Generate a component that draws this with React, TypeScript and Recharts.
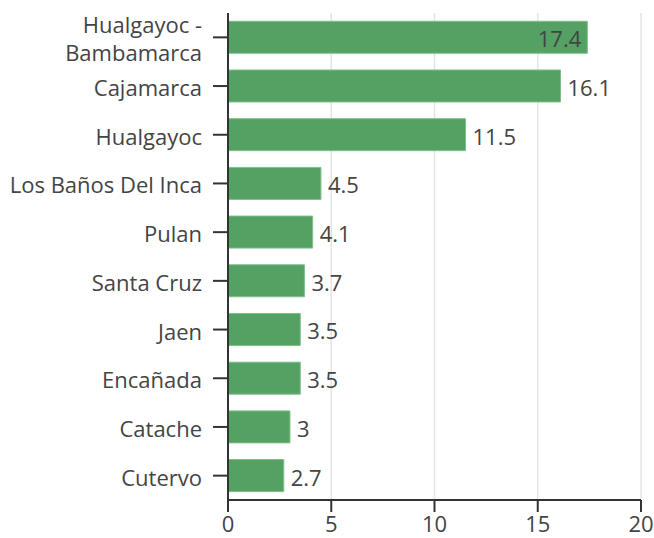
import { Bar, BarChart, CartesianGrid, LabelList, XAxis, YAxis } from 'recharts'

const districts = [
  'Hualgayoc - Bambamarca',
  'Cajamarca',
  'Hualgayoc',
  'Los Baños Del Inca',
  'Pulan',
  'Santa Cruz',
  'Jaen',
  'Encañada',
  'Catache',
  'Cutervo',
]
const shares = [17.4, 16.1, 11.5, 4.5, 4.1, 3.7, 3.5, 3.5, 3, 2.7]
const xTicks = [0, 5, 10, 15, 20]

const data = districts.map((name, i) => ({ name, value: shares[i] }))

const FONT = '"Open Sans", sans-serif'
const TEXT = '#444'
const SIZE = 22

function DistrictTick({ x, y, payload }: any) {
  const label: string = payload.value
  const lines = label.includes(' - ') ? [label.split(' - ')[0] + ' -', label.split(' - ')[1]] : [label]
  const lineH = 28
  const start = y - ((lines.length - 1) * lineH) / 2 + 1
  return (
    <g>
      <line x1={x - 15} x2={x} y1={y} y2={y} stroke="#333" strokeWidth={2} />
      {lines.map((l, i) => (
        <text
          key={i}
          x={x - 26}
          y={start + i * lineH}
          textAnchor="end"
          dominantBaseline="central"
          fill={TEXT}
          fontSize={SIZE}
          fontFamily={FONT}
        >
          {l}
        </text>
      ))}
    </g>
  )
}

function ValueLabel({ x, y, width, height, value }: any) {
  const inside = value > 17
  const tx = inside ? x + width - 6 : x + width + 7
  return (
    <text
      x={tx}
      y={y + height / 2 + 1}
      textAnchor={inside ? 'end' : 'start'}
      dominantBaseline="central"
      fill={TEXT}
      fontSize={SIZE}
      fontFamily={FONT}
    >
      {value}
    </text>
  )
}

export default function App() {
  return (
    <div style={{ position: 'absolute', left: 0, top: 0, background: '#fff' }}>
      <BarChart
        width={654}
        height={538}
        data={data}
        layout="vertical"
        margin={{ top: 13, right: 13, bottom: 0, left: 0 }}
        barCategoryGap="17%"
      >
        <CartesianGrid horizontal={false} stroke="#e4e4e4" strokeWidth={1.5} />
        <XAxis
          type="number"
          domain={[0, 20]}
          ticks={xTicks}
          height={38}
          axisLine={{ stroke: '#333', strokeWidth: 2 }}
          tickLine={{ stroke: '#333', strokeWidth: 2 }}
          tickSize={12}
          tickMargin={4}
          tick={{ fill: TEXT, fontSize: SIZE, fontFamily: FONT }}
        />
        <YAxis
          type="category"
          dataKey="name"
          width={228}
          axisLine={{ stroke: '#333', strokeWidth: 2 }}
          tickLine={false}
          tickSize={0}
          tickMargin={0}
          tick={<DistrictTick />}
          interval={0}
        />
        <Bar dataKey="value" fill="#55a063" stroke="#7cc08a" strokeWidth={1} isAnimationActive={false}>
          <LabelList dataKey="value" content={<ValueLabel />} />
        </Bar>
      </BarChart>
    </div>
  )
}
